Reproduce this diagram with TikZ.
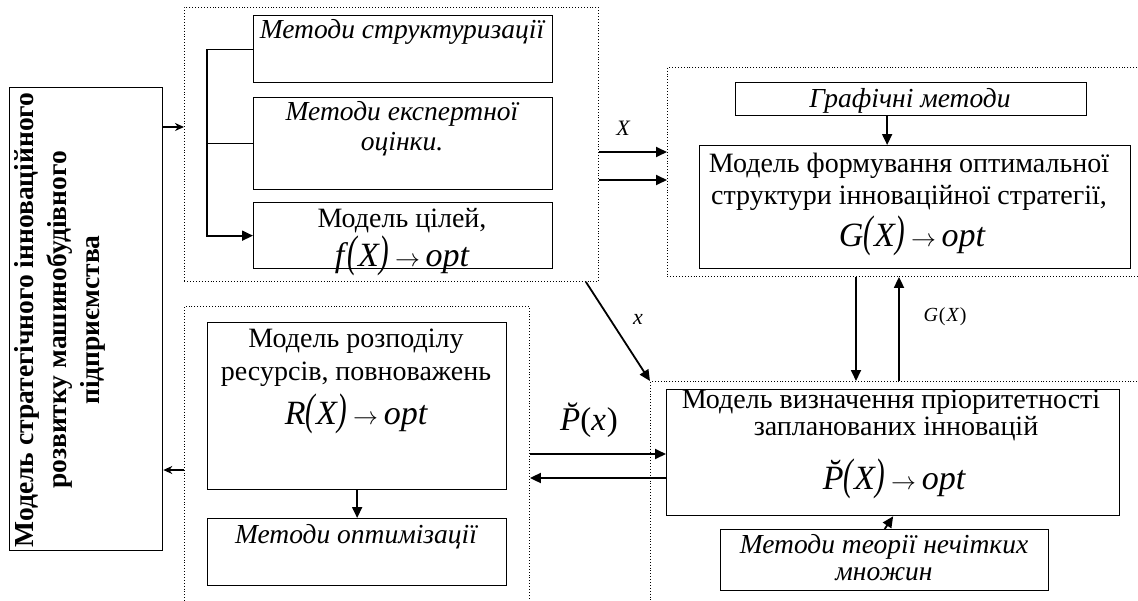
\documentclass[tikz,border=0pt]{standalone}
\usepackage{fontspec}
\setmainfont{Liberation Serif}
\usetikzlibrary{arrows.meta}
\newcommand\bpar[1]{\scalebox{0.85}[1.3]{(}\kern1pt#1\kern1pt\scalebox{0.85}[1.3]{)}}
\newcommand\fml[1]{{\itshape #1}\,$\rightarrow$\,{\itshape opt}}
\begin{document}
\begin{tikzpicture}[x=1pt,y=-1pt,
 box/.style={draw,line width=1.3pt,inner sep=0pt,anchor=north west},
 grp/.style={draw,dotted,line width=0.9pt,inner sep=0pt,anchor=north west},
 ln/.style={line width=1.3pt},
 arr/.style={line width=1.8pt,-{Triangle[length=11pt,width=10pt]}},
 sarr/.style={line width=1.5pt,-{Stealth[length=9pt,width=8pt]}},
 txt/.style={font=\fontsize{28}{30}\selectfont,inner sep=0pt,anchor=base},
 itxt/.style={font=\fontsize{27.5}{30}\selectfont\itshape,inner sep=0pt,anchor=base},
 frm/.style={font=\fontsize{34}{36}\selectfont,inner sep=0pt,anchor=base},
 lbl/.style={font=\fontsize{22}{24}\selectfont\itshape,inner sep=0pt},
]
\useasboundingbox (0,0) rectangle (1138,600);
\clip (0,0) rectangle (1138,600);
% groups
\node[grp,minimum width=414pt,minimum height=274pt] (grpA) at (184,7) {};
\node[grp,minimum width=500pt,minimum height=209pt] (grpC) at (667,67) {};
\node[grp,minimum width=520pt,minimum height=250pt] (grpD) at (650,381) {};
\node[grp,minimum width=345pt,minimum height=330pt] (grpB) at (184,306) {};
% boxes
\node[box,minimum width=153pt,minimum height=463pt] (main) at (9,87) {};
\node[box,minimum width=299pt,minimum height=67pt] (s1) at (253,15) {};
\node[box,minimum width=299pt,minimum height=92pt] (s2) at (253,97) {};
\node[box,minimum width=299pt,minimum height=66pt] (s3) at (253,202) {};
\node[box,minimum width=351pt,minimum height=33pt] (g1) at (735,82) {};
\node[box,minimum width=431pt,minimum height=123pt] (g2) at (699,145) {};
\node[box,minimum width=453pt,minimum height=126pt] (p1) at (666,389) {};
\node[box,minimum width=328pt,minimum height=61pt] (p2) at (720,529) {};
\node[box,minimum width=299pt,minimum height=167pt] (r1) at (207,322) {};
\node[box,minimum width=299pt,minimum height=67pt] (r2) at (207,518) {};
% texts
\node[rotate=90,inner sep=0pt,align=center,font=\fontsize{27.5}{33}\selectfont\bfseries] (mainT) at (60,320)
 {Модель стратегічного інноваційного\\розвитку машинобудівного\\підприємства};
\node[itxt] (s1a) at (402,38) {Методи структуризації};
\node[itxt] (s2a) at (402,120) {Методи експертної};
\node[itxt] (s2b) at (402,150) {оцінки.};
\node[txt] (s3a) at (402,227) {Модель цілей,};
\node[frm] (s3b) at (402,266) {\fml{f\kern3pt\bpar{X}}};
\node[itxt] (g1a) at (910,107) {Графічні методи};
\node[txt] (g2a) at (909,172) {Модель формування оптимальної};
\node[txt] (g2b) at (909,204) {структури інноваційної стратегії,};
\node[frm] (g2c) at (912,246) {\fml{G\bpar{X}}};
\node[txt] (p1a) at (891,408) {Модель визначення пріоритетності};
\node[txt] (p1b) at (896,435) {запланованих інновацій};
\node[frm] (p1c) at (894,489) {\fml{\u{P}\bpar{X}}};
\node[itxt] (p2a) at (884,553) {Методи теорії нечітких};
\node[itxt] (p2b) at (884,580) {множин};
\node[txt] (r1a) at (356,347) {Модель розподілу};
\node[txt] (r1b) at (356,380) {ресурсів, повноважень};
\node[frm] (r1c) at (356,424) {\fml{R\bpar{X}}};
\node[itxt] (r2a) at (356,543) {Методи оптимізації};
% labels
\node[lbl] (lX) at (623,128) {X};
\node[lbl] (lx) at (638,319) {x};
\node[font=\fontsize{20}{22}\selectfont,inner sep=0pt] (lG) at (945,317) {{\itshape G}\kern1pt(\kern1pt{\itshape X}\kern1pt)};
\node[font=\fontsize{33}{33}\selectfont,inner sep=0pt] (lP) at (589,420) {{\itshape \u{P}}({\itshape x\kern1pt})};
% connectors
\draw[ln] (s1.west) -- ++(-46,0) coordinate (bt);
\draw[ln] (s2.west) -- ++(-46,0);
\draw[arr] (bt) |- (s3.west);
\draw[sarr] (main.east |- 0,127) -- (grpA.west |- 0,127);
\draw[sarr] (grpB.west |- 0,470) -- (main.east |- 0,470);
\draw[arr] (grpA.east |- 0,152) -- (grpC.west |- 0,152);
\draw[arr] (grpA.east |- 0,180) -- (grpC.west |- 0,180);
\draw[arr] ([xshift=-24pt]g1.south) -- ([xshift=-24pt]g1.south |- g2.north);
\draw[arr] (grpC.south -| 856,0) -- (grpD.north -| 856,0);
\draw[arr] (grpD.north -| 899,0) -- (grpC.south -| 899,0);
\draw[arr] ([xshift=-13pt]grpA.south east) -- (grpD.north west);
\draw[arr] (grpB.east |- 0,454) -- (p1.west |- 0,454);
\draw[arr] (p1.west |- 0,478) -- (grpB.east |- 0,478);
\draw[arr] (r1.south) -- (r2.north);
\draw[arr] (p2.north) -- (p1.south);
\end{tikzpicture}
\end{document}
